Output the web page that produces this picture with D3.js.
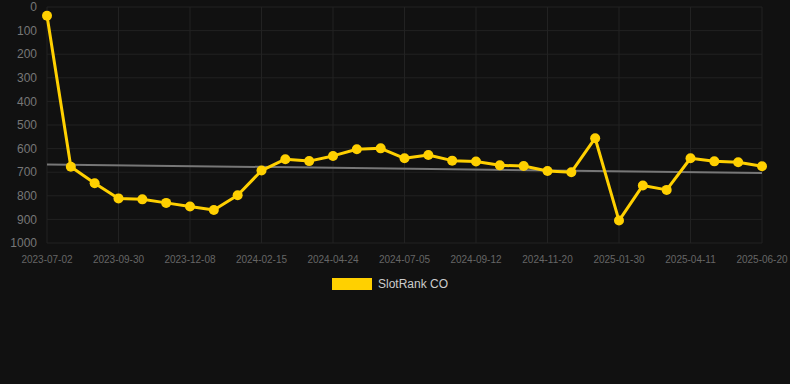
<!DOCTYPE html>
<html>
<head>
<meta charset="utf-8">
<script src="https://cdn.jsdelivr.net/npm/d3@7"></script>
<style>
  html, body { margin: 0; padding: 0; background: #111111; }
  svg { display: block; }
</style>
</head>
<body>
<div id="chart"></div>
<script>
// Categories (one per data point; only every third is shown on the axis)
const dates = [
  "2023-07-02", "2023-07-31", "2023-08-30", "2023-09-30", "2023-10-23", "2023-11-15",
  "2023-12-08", "2023-12-31", "2024-01-23", "2024-02-15", "2024-03-08", "2024-04-01",
  "2024-04-24", "2024-05-18", "2024-06-11", "2024-07-05", "2024-07-28", "2024-08-20",
  "2024-09-12", "2024-10-05", "2024-10-28", "2024-11-20", "2024-12-14", "2025-01-06",
  "2025-01-30", "2025-02-23", "2025-03-18", "2025-04-11", "2025-05-04", "2025-05-27",
  "2025-06-20"
];
// SlotRank CO values (rank, lower is better)
const rankValues = [
  37, 677, 747, 811, 815, 830, 845, 860, 798, 693, 645, 653, 631, 603, 599, 641,
  627, 651, 655, 671, 674, 695, 700, 556, 905, 756, 775, 641, 654, 658, 675
];
// Trend line endpoints
const trendValues = [667, 703];
const yTicks = [0, 100, 200, 300, 400, 500, 600, 700, 800, 900, 1000];
const seriesName = "SlotRank CO";

const W = 790, H = 384;
const margin = {top: 7, right: 28, bottom: 141, left: 47};
const width = W - margin.left - margin.right;
const height = H - margin.top - margin.bottom;

const svg = d3.select("#chart").append("svg")
    .attr("width", W)
    .attr("height", H)
    .style("font-family", "Arial, 'Liberation Sans', sans-serif");

svg.append("rect").attr("width", W).attr("height", H).attr("fill", "#111111");

const g = svg.append("g").attr("transform", `translate(${margin.left},${margin.top})`);

const x = d3.scalePoint().domain(dates).range([0, width]);
const y = d3.scaleLinear().domain([0, 1000]).range([0, height]);

const shownDates = dates.filter((d, i) => i % 3 === 0);

// Grid lines
g.append("g")
  .selectAll("line")
  .data(yTicks)
  .enter().append("line")
    .attr("x1", 0).attr("x2", width)
    .attr("y1", d => y(d)).attr("y2", d => y(d))
    .attr("stroke", "#222222").attr("stroke-width", 1);

g.append("g")
  .selectAll("line")
  .data(shownDates)
  .enter().append("line")
    .attr("x1", d => x(d)).attr("x2", d => x(d))
    .attr("y1", 0).attr("y2", height)
    .attr("stroke", "#222222").attr("stroke-width", 1);

// Y axis labels
g.append("g")
  .selectAll("text")
  .data(yTicks)
  .enter().append("text")
    .attr("x", -10)
    .attr("y", d => y(d))
    .attr("dy", "0.35em")
    .attr("text-anchor", "end")
    .attr("fill", "#777777")
    .style("font-size", "12px")
    .text(d => d);

// X axis labels
g.append("g")
  .selectAll("text")
  .data(shownDates)
  .enter().append("text")
    .attr("x", d => x(d))
    .attr("y", height + 20)
    .attr("text-anchor", "middle")
    .attr("fill", "#666666")
    .style("font-size", "10px")
    .text(d => d);

// Trend line
g.append("line")
  .attr("x1", x(dates[0])).attr("x2", x(dates[dates.length - 1]))
  .attr("y1", y(trendValues[0])).attr("y2", y(trendValues[1]))
  .attr("stroke", "#777777").attr("stroke-width", 2);

// Series line
const line = d3.line()
  .x((d, i) => x(dates[i]))
  .y(d => y(d));

g.append("path")
  .datum(rankValues)
  .attr("d", line)
  .attr("fill", "none")
  .attr("stroke", "#FFD000")
  .attr("stroke-width", 3)
  .attr("stroke-linejoin", "round");

g.append("g")
  .selectAll("circle")
  .data(rankValues)
  .enter().append("circle")
    .attr("cx", (d, i) => x(dates[i]))
    .attr("cy", d => y(d))
    .attr("r", 5)
    .attr("fill", "#FFD000");

// Legend
const legend = svg.append("g").attr("transform", "translate(332,278)");
legend.append("rect")
  .attr("width", 40).attr("height", 12)
  .attr("fill", "#FFD000");
legend.append("text")
  .attr("x", 46).attr("y", 6)
  .attr("dy", "0.35em")
  .attr("fill", "#cccccc")
  .style("font-size", "12px")
  .text(seriesName);
</script>
</body>
</html>
